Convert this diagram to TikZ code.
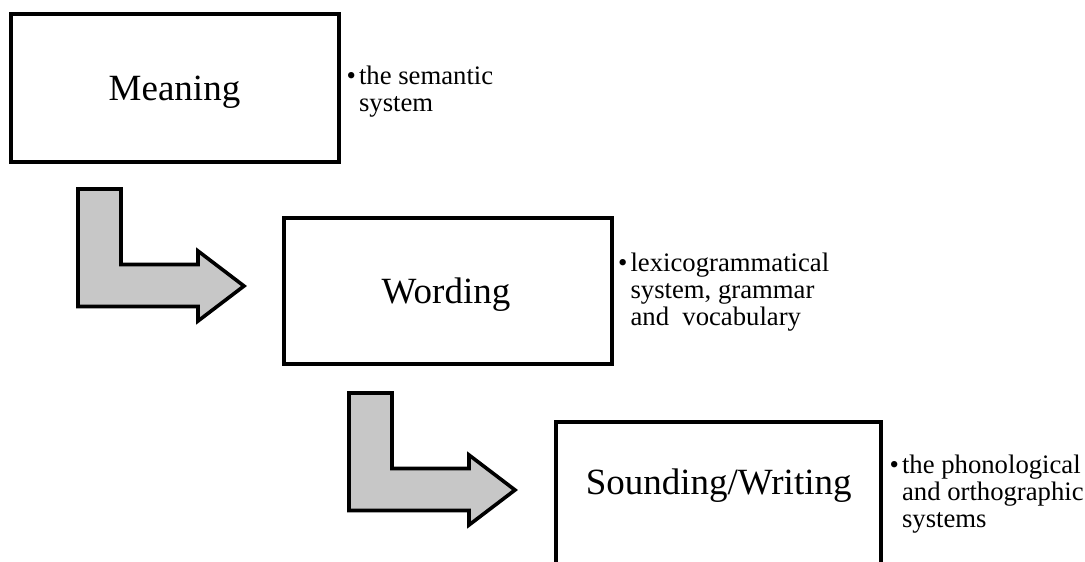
\documentclass[tikz,border=0pt]{standalone}
\usepackage{fontspec}
\setmainfont{Liberation Serif}
\begin{document}
\begin{tikzpicture}[x=1pt,y=-1pt,
  box/.style={draw=black, line width=4pt, fill=white, inner sep=0pt, line join=miter},
  label/.style={anchor=base, inner sep=0pt, font=\fontsize{37}{40}\selectfont},
  arrowshape/.style={draw=black, line width=3.6pt, fill=black!22, line join=miter},
  note/.style={anchor=base west, inner sep=0pt,
               font=\fontsize{26.7}{27}\selectfont},
  elbow/.pic={
    \draw[arrowshape] (0,0) -- (43,0) -- (43,75.5) -- (120,75.5) -- (120,62)
      -- (166,97) -- (120,132) -- (120,117.5) -- (0,117.5) -- cycle;
  }]
\useasboundingbox (0,0) rectangle (1085,562);

% the three levels
\node[box, minimum width=328pt, minimum height=148pt] (meaning) at (174.5,88) {};
\node[box, minimum width=328pt, minimum height=146pt] (wording) at (447.8,291) {};
\node[box, minimum width=325pt, minimum height=148pt] (sounding) at (718.7,496) {};

\node[label] (meaningtxt) at (174.5,100) {Meaning};
\node[label] (wordingtxt) at (446,303) {Wording};
\node[label] (soundingtxt) at (718.7,494.5) {Sounding/Writing};

% elbow arrows between the levels
\pic at (78,189) {elbow};
\pic at (349,393) {elbow};

% descriptions
\node[note] (n1) at (346.5,84) {\begin{tabular}[t]{@{}l@{\hspace{3pt}}l@{}}\textbullet & the semantic\\ & system\end{tabular}};
\node[note] (n2) at (618,271) {\begin{tabular}[t]{@{}l@{\hspace{3pt}}l@{}}\textbullet & lexicogrammatical\\ & system, grammar\\ & and\ \ vocabulary\end{tabular}};
\node[note] (n3) at (889.5,473) {\begin{tabular}[t]{@{}l@{\hspace{3pt}}l@{}}\textbullet & the phonological\\ & and orthographic\\ & systems\end{tabular}};
\end{tikzpicture}
\end{document}
